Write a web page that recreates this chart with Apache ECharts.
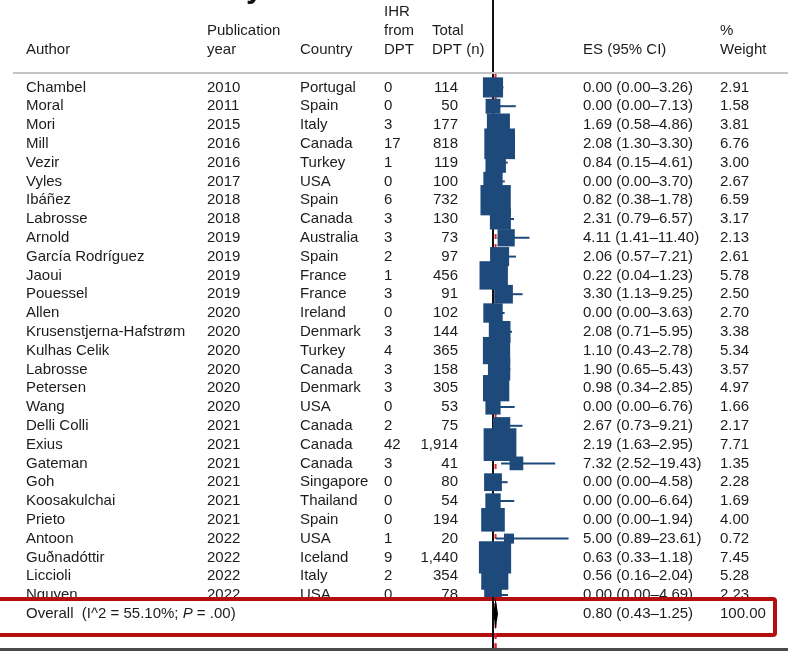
<!DOCTYPE html>
<html lang="en">
<head>
  <meta charset="UTF-8">
  <title>Forest plot</title>
  <script src="https://cdn.jsdelivr.net/npm/echarts@6/dist/echarts.min.js"></script>
  <style>
    html, body { margin: 0; padding: 0; background: #fff; }
    #forest { width: 788px; height: 651px; }
  </style>
</head>
<body>
<div id="forest"></div>
<script>
  // study rows
  var authors = ['Chambel', 'Moral', 'Mori', 'Mill', 'Vezir', 'Vyles', 'Ibáñez', 'Labrosse', 'Arnold',
    'García Rodríguez', 'Jaoui', 'Pouessel', 'Allen', 'Krusenstjerna-Hafstrøm', 'Kulhas Celik', 'Labrosse',
    'Petersen', 'Wang', 'Delli Colli', 'Exius', 'Gateman', 'Goh', 'Koosakulchai', 'Prieto', 'Antoon',
    'Guðnadóttir', 'Liccioli', 'Nguyen'];
  var years = [2010, 2011, 2015, 2016, 2016, 2017, 2018, 2018, 2019, 2019, 2019, 2019, 2020, 2020, 2020, 2020,
    2020, 2020, 2021, 2021, 2021, 2021, 2021, 2021, 2022, 2022, 2022, 2022];
  var countries = ['Portugal', 'Spain', 'Italy', 'Canada', 'Turkey', 'USA', 'Spain', 'Canada', 'Australia',
    'Spain', 'France', 'France', 'Ireland', 'Denmark', 'Turkey', 'Canada', 'Denmark', 'USA', 'Canada', 'Canada',
    'Canada', 'Singapore', 'Thailand', 'Spain', 'USA', 'Iceland', 'Italy', 'USA'];
  var ihr = [0, 0, 3, 17, 1, 0, 6, 3, 3, 2, 1, 3, 0, 3, 4, 3, 3, 0, 2, 42, 3, 0, 0, 0, 1, 9, 2, 0];
  var totalDpt = [114, 50, 177, 818, 119, 100, 732, 130, 73, 97, 456, 91, 102, 144, 365, 158, 305, 53, 75, 1914,
    41, 80, 54, 194, 20, 1440, 354, 78];
  var es = [0.00, 0.00, 1.69, 2.08, 0.84, 0.00, 0.82, 2.31, 4.11, 2.06, 0.22, 3.30, 0.00, 2.08, 1.10, 1.90, 0.98,
    0.00, 2.67, 2.19, 7.32, 0.00, 0.00, 0.00, 5.00, 0.63, 0.56, 0.00];
  var ciLow = [0.00, 0.00, 0.58, 1.30, 0.15, 0.00, 0.38, 0.79, 1.41, 0.57, 0.04, 1.13, 0.00, 0.71, 0.43, 0.65, 0.34,
    0.00, 0.73, 1.63, 2.52, 0.00, 0.00, 0.00, 0.89, 0.33, 0.16, 0.00];
  var ciHigh = [3.26, 7.13, 4.86, 3.30, 4.61, 3.70, 1.78, 6.57, 11.40, 7.21, 1.23, 9.25, 3.63, 5.95, 2.78, 5.43,
    2.85, 6.76, 9.21, 2.95, 19.43, 4.58, 6.64, 1.94, 23.61, 1.18, 2.04, 4.69];
  var weights = [2.91, 1.58, 3.81, 6.76, 3.00, 2.67, 6.59, 3.17, 2.13, 2.61, 5.78, 2.50, 2.70, 3.38, 5.34, 3.57,
    4.97, 1.66, 2.17, 7.71, 1.35, 2.28, 1.69, 4.00, 0.72, 7.45, 5.28, 2.23];

  // pooled estimate
  var overallEs = 0.80;
  var overallLow = 0.43;
  var overallHigh = 1.25;
  var overallI2 = '55.10%';
  var overallP = '.00';
  var overallWeight = '100.00';

  var ROW_OVERALL = authors.length;   // row index of the overall line
  var BLUE = '#1e4a7b';
  var RED = '#e0262b';
  var TXT = '#1c1c1c';
  var FONT = '"Liberation Sans", Arial, sans-serif';
  var FS = '15px ';

  // column x positions (pixels)
  var COL_AUTHOR = 26, COL_YEAR = 207, COL_COUNTRY = 300, COL_IHR = 384, COL_TOTAL = 458, COL_ES = 583, COL_W = 720;

  function ciText(e, l, h) {
    return e.toFixed(2) + ' (' + l.toFixed(2) + '–' + h.toFixed(2) + ')';
  }

  function txt(x, y, s, align) {
    return {
      type: 'text',
      style: { x: x, y: y, text: s, fill: TXT, font: FS + FONT, align: align || 'left', verticalAlign: 'middle' }
    };
  }

  var chart = echarts.init(document.getElementById('forest'), null, { renderer: 'canvas' });

  var rowData = authors.map(function (a, i) { return [0, i]; });
  var boxData = es.map(function (v, i) { return [v, i, ciLow[i], ciHigh[i], weights[i]]; });

  var option = {
    animation: false,
    backgroundColor: '#fff',
    grid: { left: 493, width: 80, top: 0, bottom: 3 },
    xAxis: { type: 'value', min: 0, max: 25, show: false },
    yAxis: { type: 'value', inverse: true, min: -4.65, max: 29.82, show: false },
    graphic: [
      // header labels
      { type: 'group', z: 3, children: [
        txt(COL_AUTHOR, 50, 'Author'),
        txt(COL_YEAR, 31, 'Publication'), txt(COL_YEAR, 50, 'year'),
        txt(COL_COUNTRY, 50, 'Country'),
        txt(COL_IHR, 12, 'IHR'), txt(COL_IHR, 31, 'from'), txt(COL_IHR, 50, 'DPT'),
        txt(432, 31, 'Total'), txt(432, 50, 'DPT (n)'),
        txt(COL_ES, 50, 'ES (95% CI)'),
        txt(COL_W, 31, '%'), txt(COL_W, 50, 'Weight')
      ] },
      // cut-off title fragment at the very top
      { type: 'text', z: 3, style: { x: 246, y: -27, text: 'y', fill: '#111', font: 'bold 31px ' + FONT } },
      { type: 'line', z: 3, shape: { x1: 13, y1: 73, x2: 788, y2: 73 }, style: { stroke: '#c4c4c4', lineWidth: 2 } },
      // red highlight box round the overall row
      { type: 'rect', z: 5, shape: { x: -10, y: 599, width: 785, height: 36, r: 2 },
        style: { fill: '#fff', stroke: '#b30f0f', lineWidth: 4 } },
      { type: 'line', z: 12, shape: { x1: 0, y1: 649.5, x2: 788, y2: 649.5 }, style: { stroke: '#4a4a4a', lineWidth: 3 } }
    ],
    series: [
      {
        // null line and pooled-estimate line, behind the boxes
        type: 'custom',
        z: 1,
        data: [[0]],
        clip: false,
        renderItem: function (params, api) {
          var x0 = api.coord([0, 0])[0];
          var xo = api.coord([overallEs, 0])[0];
          return { type: 'group', children: [
            { type: 'line', shape: { x1: x0, y1: 0, x2: x0, y2: 651 }, style: { stroke: '#111', lineWidth: 2 } },
            { type: 'line', shape: { x1: xo, y1: 74, x2: xo, y2: 651 }, style: { stroke: RED, lineWidth: 2, lineDash: [5, 5] } }
          ] };
        }
      },
      {
        // study boxes and CI whiskers
        type: 'custom',
        z: 2,
        data: boxData,
        clip: false,
        renderItem: function (params, api) {
          var c = api.coord([api.value(0), api.value(1)]);
          var lo = api.coord([api.value(2), api.value(1)]);
          var hi = api.coord([api.value(3), api.value(1)]);
          var side = 11.8 * Math.sqrt(api.value(4));
          return { type: 'group', children: [
            { type: 'line', shape: { x1: lo[0], y1: c[1], x2: hi[0], y2: c[1] }, style: { stroke: BLUE, lineWidth: 2 } },
            { type: 'rect', shape: { x: c[0] - side / 2, y: c[1] - side / 2, width: side, height: side }, style: { fill: BLUE } }
          ] };
        }
      },
      {
        // table text for each study
        type: 'custom',
        z: 2,
        data: rowData,
        clip: false,
        silent: true,
        renderItem: function (params, api) {
          var i = api.value(1);
          var y = api.coord([0, i])[1];
          return { type: 'group', children: [
            txt(COL_AUTHOR, y, authors[i]),
            txt(COL_YEAR, y, String(years[i])),
            txt(COL_COUNTRY, y, countries[i]),
            txt(COL_IHR, y, String(ihr[i])),
            txt(COL_TOTAL, y, totalDpt[i].toLocaleString('en-US'), 'right'),
            txt(COL_ES, y, ciText(es[i], ciLow[i], ciHigh[i])),
            txt(COL_W, y, weights[i].toFixed(2))
          ] };
        }
      },
      {
        // overall row: diamond, lines inside the highlight box, texts
        type: 'custom',
        z: 10,
        data: [[overallEs, ROW_OVERALL]],
        clip: false,
        renderItem: function (params, api) {
          var c = api.coord([overallEs, ROW_OVERALL]);
          var l = api.coord([overallLow, ROW_OVERALL]);
          var h = api.coord([overallHigh, ROW_OVERALL]);
          var x0 = api.coord([0, 0])[0];
          return { type: 'group', children: [
            { type: 'line', shape: { x1: x0, y1: 597, x2: x0, y2: 651 }, style: { stroke: '#111', lineWidth: 2 } },
            { type: 'line', shape: { x1: c[0], y1: 603, x2: c[0], y2: 651 }, style: { stroke: RED, lineWidth: 2, lineDash: [5, 5] } },
            { type: 'polygon', shape: { points: [[l[0], c[1]], [c[0], c[1] - 9], [h[0], c[1]], [c[0], c[1] + 9]] },
              style: { fill: '#000', stroke: '#000', lineWidth: 2 } },
            { type: 'text', style: {
              x: COL_AUTHOR, y: c[1], verticalAlign: 'middle',
              text: '{n|Overall  (I^2 = ' + overallI2 + '; }{i|P}{n| = ' + overallP + ')}',
              rich: {
                n: { fill: TXT, font: FS + FONT },
                i: { fill: TXT, font: 'italic ' + FS + FONT }
              }
            } },
            txt(COL_ES, c[1], ciText(overallEs, overallLow, overallHigh)),
            txt(COL_W, c[1], overallWeight)
          ] };
        }
      }
    ]
  };

  chart.setOption(option);
  window.addEventListener('resize', chart.resize);
</script>
</body>
</html>
